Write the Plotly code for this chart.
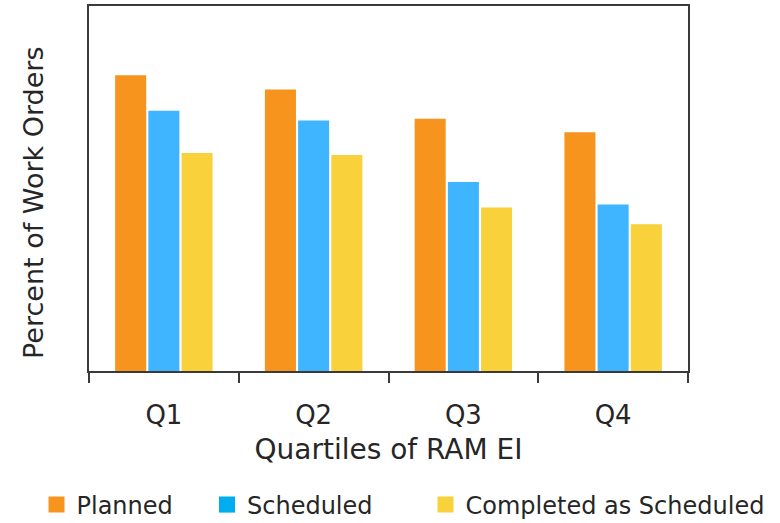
import plotly.graph_objects as go

categories = ["Q1", "Q2", "Q3", "Q4"]
planned = [81.0, 77.1, 69.1, 65.4]
scheduled = [71.3, 68.6, 51.8, 45.6]
completed = [59.7, 59.2, 44.8, 40.2]

series_names = ["Planned", "Scheduled", "Completed as Scheduled"]
bar_colors = ["#F7941E", "#3FB4FF", "#F9D13A"]
legend_colors = ["#F7941E", "#00AEEF", "#F9D13A"]
legend_ids = ["legend", "legend2", "legend3"]
legend_left_px = [36.5, 207, 425.5]

FONT = "DejaVu Sans, sans-serif"
TXT = "#262626"
W, H = 780, 523
ML, MR, MT, MB = 89, 92, 6, 152
PW = W - ML - MR
PH = H - MT - MB

fig = go.Figure()
for name, vals, col in zip(series_names, [planned, scheduled, completed], bar_colors):
    fig.add_trace(go.Bar(x=categories, y=vals, name=name, marker_color=col,
                         marker_line_width=0, showlegend=False))
for name, col, lid in zip(series_names, legend_colors, legend_ids):
    fig.add_trace(go.Scatter(x=[None], y=[None], mode="markers", name=name, legend=lid,
                             marker=dict(symbol="square", size=18, color=col)))

legend_common = dict(orientation="h", yref="container", y=(H - 505) / H, yanchor="middle",
                     xanchor="left", font=dict(size=24, color=TXT),
                     bgcolor="rgba(0,0,0,0)")
layout_legends = {}
for lid, lx in zip(legend_ids, legend_left_px):
    layout_legends[lid] = dict(legend_common, x=(lx - ML) / PW, xref="paper")

fig.update_layout(
    width=W, height=H,
    margin=dict(l=ML, r=MR, t=MT, b=MB, autoexpand=False),
    paper_bgcolor="white", plot_bgcolor="white",
    font=dict(family=FONT, size=24, color=TXT),
    barmode="group", bargap=0.335, bargroupgap=0.065,
    **layout_legends,
)
fig.add_annotation(
    text="Percent of Work Orders", textangle=-90, showarrow=False,
    xref="paper", yref="paper",
    x=(33 - ML) / PW, y=1 - (203 - MT) / PH, xanchor="center", yanchor="middle",
    font=dict(size=27, color=TXT),
)
fig.update_xaxes(
    type="category", range=[-0.5, 3.5],
    showline=True, linecolor="#3a3a3a", linewidth=2, mirror=True,
    ticks="outside", tickson="boundaries", ticklen=10, tickcolor="#3a3a3a", tickwidth=2,
    ticklabelstandoff=20,
    showgrid=False, automargin=False,
    title=dict(text="Quartiles of RAM EI", font=dict(size=28, color=TXT), standoff=10),
    tickfont=dict(size=26, color=TXT),
)
fig.update_yaxes(
    range=[0, 100], showline=True, linecolor="#3a3a3a", linewidth=2, mirror=True,
    showticklabels=False, ticks="", showgrid=False, zeroline=False, automargin=False,
)
fig.write_html("out.html", config={"displayModeBar": False},
               post_script="document.body.style.margin='0';document.body.style.overflow='hidden';")
